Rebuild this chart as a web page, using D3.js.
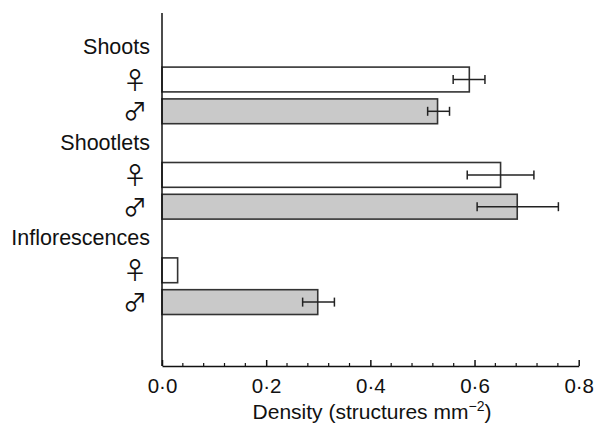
<!DOCTYPE html>
<html>
<head>
<meta charset="utf-8">
<script src="https://cdn.jsdelivr.net/npm/d3@7"></script>
<style>
  body { margin: 0; background: #fff; }
  text { font-family: "Liberation Sans", Arial, sans-serif; fill: #111; }
</style>
</head>
<body>
<div id="graph"></div>
<script>
// Data
let groups = ["Shoots", "Shootlets", "Inflorescences"];
let sexes = ["female", "male"];
let means = [0.590, 0.529, 0.650, 0.682, 0.030, 0.299];
let errLow = [0.559, 0.510, 0.586, 0.605, null, 0.270];
let errHigh = [0.620, 0.552, 0.714, 0.761, null, 0.331];
let xTicks = [0, 0.2, 0.4, 0.6, 0.8];

let width = 604, height = 423;
let svg = d3.select("#graph")
  .append("svg")
  .attr("width", width)
  .attr("height", height);

// rows: group label, female, male for each group
let rows = [];
groups.forEach((g, gi) => {
  rows.push({key: g, type: "label", text: g});
  sexes.forEach((s, si) => {
    let i = gi * 2 + si;
    rows.push({key: g + "-" + s, type: "bar", sex: s, value: means[i], lo: errLow[i], hi: errHigh[i]});
  });
});

let x = d3.scaleLinear().domain([0, 0.8]).range([162, 578.7]);
let y = d3.scaleBand()
  .domain(rows.map(d => d.key))
  .range([31.8, 318])
  .paddingInner(0.22)
  .paddingOuter(0.11);

// bars
let bars = rows.filter(d => d.type === "bar");
svg.selectAll("rect.bar")
  .data(bars)
  .enter().append("rect")
  .attr("class", "bar")
  .attr("x", x(0))
  .attr("y", d => y(d.key))
  .attr("width", d => x(d.value) - x(0))
  .attr("height", y.bandwidth())
  .attr("fill", d => d.sex === "male" ? "#c9c9c9" : "#fff")
  .attr("stroke", "#333")
  .attr("stroke-width", 1.6);

// error bars
let errs = bars.filter(d => d.lo !== null);
let cap = 4.5;
let eg = svg.selectAll("g.err")
  .data(errs)
  .enter().append("g")
  .attr("class", "err")
  .attr("stroke", "#222")
  .attr("stroke-width", 1.5);
eg.append("line")
  .attr("x1", d => x(d.lo)).attr("x2", d => x(d.hi))
  .attr("y1", d => y(d.key) + y.bandwidth() / 2)
  .attr("y2", d => y(d.key) + y.bandwidth() / 2);
eg.append("line")
  .attr("x1", d => x(d.lo)).attr("x2", d => x(d.lo))
  .attr("y1", d => y(d.key) + y.bandwidth() / 2 - cap)
  .attr("y2", d => y(d.key) + y.bandwidth() / 2 + cap);
eg.append("line")
  .attr("x1", d => x(d.hi)).attr("x2", d => x(d.hi))
  .attr("y1", d => y(d.key) + y.bandwidth() / 2 - cap)
  .attr("y2", d => y(d.key) + y.bandwidth() / 2 + cap);

// left labels
svg.selectAll("text.grp")
  .data(rows.filter(d => d.type === "label"))
  .enter().append("text")
  .attr("class", "grp")
  .attr("x", 150)
  .attr("y", d => y(d.key) + y.bandwidth() / 2)
  .attr("dy", "0.3em")
  .attr("text-anchor", "end")
  .style("font-size", "21.5px")
  .text(d => d.text);

svg.selectAll("text.sex")
  .data(bars)
  .enter().append("text")
  .attr("class", "sex")
  .attr("x", 135)
  .attr("y", d => y(d.key) + y.bandwidth() / 2)
  .attr("dy", "0.38em")
  .attr("text-anchor", "middle")
  .style("font-family", "'Noto Sans CJK JP', 'DejaVu Sans', sans-serif")
  .style("font-size", "24px")
  .text(d => d.sex === "female" ? "\u2640" : "\u2642");

// y axis line
svg.append("line")
  .attr("x1", x(0)).attr("x2", x(0))
  .attr("y1", 13).attr("y2", 366)
  .attr("stroke", "#111")
  .attr("stroke-width", 1.5);

// x axis
let fmt = d => d3.format(".1f")(d).replace(".", "\u00b7");
let axisY = 366;
let xAxis = svg.append("g")
  .attr("transform", "translate(0," + axisY + ")");
xAxis.call(d3.axisBottom(x).tickValues(xTicks).tickFormat(fmt)
  .tickSizeInner(-6).tickSizeOuter(0).tickPadding(12));
xAxis.select(".domain").attr("stroke", "#111").attr("stroke-width", 1.5);
xAxis.selectAll(".tick line").attr("stroke", "#111").attr("stroke-width", 1.5);
xAxis.selectAll(".tick text")
  .style("font-size", "20.5px")
  .style("font-family", "'Liberation Sans', Arial, sans-serif")
  .attr("fill", "#111");

// minor ticks
let minor = d3.range(0, 0.8001, 0.04).filter(v => xTicks.every(t => Math.abs(t - v) > 1e-6));
svg.selectAll("line.minor")
  .data(minor)
  .enter().append("line")
  .attr("class", "minor")
  .attr("x1", d => x(d)).attr("x2", d => x(d))
  .attr("y1", axisY).attr("y2", axisY - 3)
  .attr("stroke", "#111")
  .attr("stroke-width", 1.2);

// axis title
let title = svg.append("text")
  .attr("x", 372)
  .attr("y", 419)
  .attr("text-anchor", "middle")
  .style("font-size", "21px");
title.append("tspan").text("Density (structures mm");
title.append("tspan").attr("dy", "-8").style("font-size", "14px").text("\u22122");
title.append("tspan").attr("dy", "8").text(")");
</script>
</body>
</html>
